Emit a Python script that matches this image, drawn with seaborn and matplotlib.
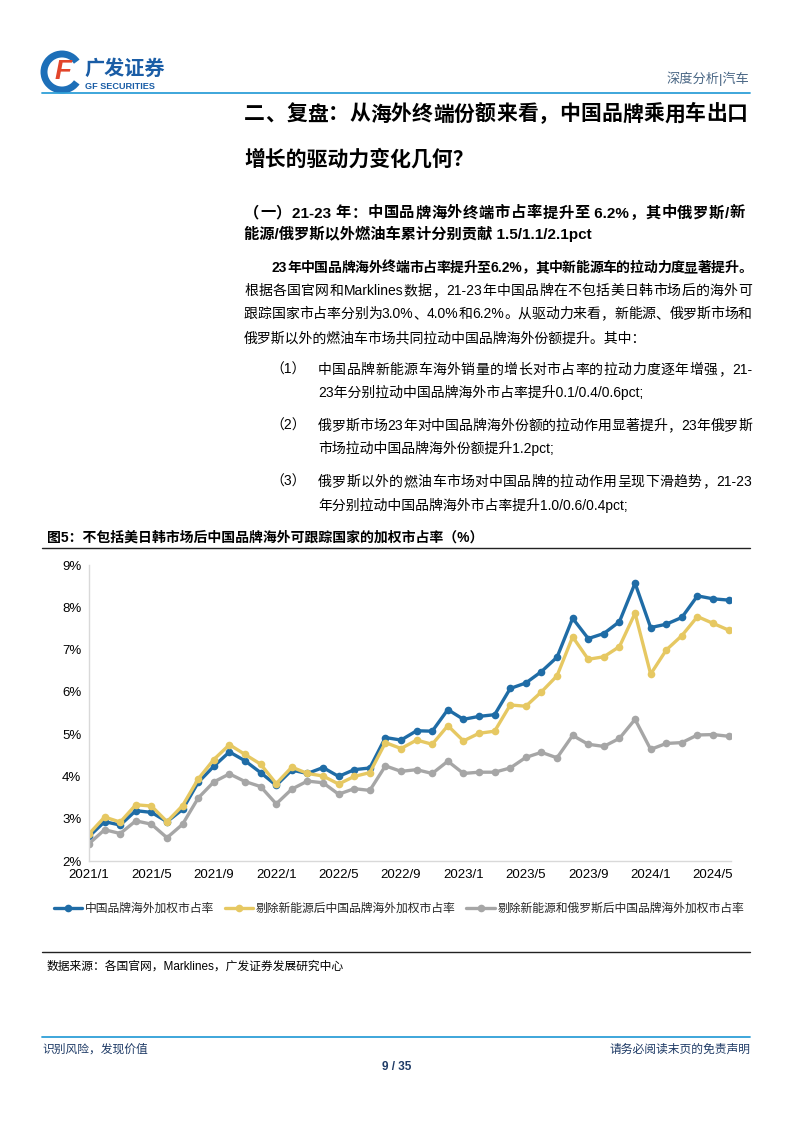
#!/usr/bin/env python3
"""
Report page: weighted overseas share of Chinese brands (ex US/JP/KR markets).
Outputs: out.png
"""
import pandas as pd
import matplotlib.pyplot as plt
import seaborn as sns
from matplotlib.patches import Arc
from matplotlib.lines import Line2D

W, H = 794, 1123

# monthly categories 2021/1 .. 2024/6
MONTHS = [f"{y}/{m}" for y in (2021, 2022, 2023, 2024) for m in range(1, 13)][:42]
TICK_LABELS = ["2021/1", "2021/5", "2021/9", "2022/1", "2022/5", "2022/9",
               "2023/1", "2023/5", "2023/9", "2024/1", "2024/5"]
Y_TICKS = [2, 3, 4, 5, 6, 7, 8, 9]

SERIES_NAMES = ["中国品牌海外加权市占率",
                "剔除新能源后中国品牌海外加权市占率",
                "剔除新能源和俄罗斯后中国品牌海外加权市占率"]
BRAND = [2.58, 2.93, 2.85, 3.19, 3.15, 2.93, 3.22, 3.86, 4.24, 4.58, 4.37, 4.09,
         3.79, 4.15, 4.07, 4.21, 4.00, 4.16, 4.20, 4.92, 4.86, 5.08, 5.07, 5.58,
         5.35, 5.42, 5.46, 6.08, 6.21, 6.48, 6.82, 7.74, 7.26, 7.38, 7.66, 8.57,
         7.52, 7.60, 7.76, 8.27, 8.20, 8.17]
EX_NEV = [2.64, 3.04, 2.92, 3.33, 3.30, 2.93, 3.31, 3.94, 4.40, 4.75, 4.52, 4.29,
          3.83, 4.22, 4.07, 4.01, 3.82, 4.00, 4.09, 4.80, 4.66, 4.86, 4.76, 5.20,
          4.84, 5.02, 5.07, 5.69, 5.66, 6.00, 6.38, 7.30, 6.77, 6.83, 7.07, 7.86,
          6.42, 6.99, 7.33, 7.78, 7.62, 7.46]
EX_NEV_RU = [2.41, 2.74, 2.65, 2.95, 2.87, 2.55, 2.87, 3.49, 3.87, 4.06, 3.88, 3.76,
             3.35, 3.70, 3.89, 3.85, 3.58, 3.71, 3.67, 4.25, 4.12, 4.16, 4.07, 4.36,
             4.07, 4.10, 4.10, 4.20, 4.45, 4.57, 4.44, 4.97, 4.76, 4.71, 4.90, 5.35,
             4.64, 4.78, 4.80, 4.98, 4.99, 4.95]
COLORS = ["#1f6ca6", "#e6c862", "#a6a6a6"]

sns.set_theme(style="white")
plt.rcParams["font.family"] = ["Liberation Sans", "Noto Sans CJK SC", "DejaVu Sans"]

fig = plt.figure(figsize=(W / 100, H / 100), dpi=100)
renderer = fig.canvas.get_renderer()


def fx(x):
    return x / W


def fy(y):
    return 1 - y / H


def put(s, x, y, size, weight="normal", color="black", ha="left"):
    # y is the visual centre line in pixels; place by baseline
    base = y + 0.36 * size * 100 / 72
    return fig.text(fx(x), fy(base), s, fontsize=size, fontweight=weight,
                    color=color, ha=ha, va="baseline")


def tokens(s):
    out, buf = [], ""
    for ch in s:
        if ord(ch) < 128:
            buf += ch
        else:
            if buf:
                out.append(buf)
                buf = ""
            out.append(ch)
    if buf:
        out.append(buf)
    return out


def justify(s, x0, x1, y, size, weight="normal"):
    parts = [put(t, x0, y, size, weight) for t in tokens(s)]
    widths = [p.get_window_extent(renderer).width for p in parts]
    gap = (x1 - x0 - sum(widths)) / max(len(parts) - 1, 1)
    x = x0
    for p, w in zip(parts, widths):
        p.set_x(fx(x))
        x += w + gap


def hline(y, x0, x1, color, lw):
    fig.add_artist(Line2D([fx(x0), fx(x1)], [fy(y), fy(y)], color=color, lw=lw,
                          transform=fig.transFigure))


# ---- page header ----
fig.add_artist(Arc((62 / 100, (H - 72) / 100), 0.36, 0.36, theta1=35, theta2=325,
                   lw=5, color="#1d6fb8", transform=fig.dpi_scale_trans))
fig.text(fx(63), fy(72), "F", fontsize=20, fontweight="bold", style="italic",
         color="#e2452b", ha="center", va="center")
put("广发证券", 84, 68, 14.5, weight="bold", color="#1a5da6")
put("GF SECURITIES", 85, 86, 6.6, weight="bold", color="#1a5da6")
put("深度分析|汽车", 749, 78, 9.5, color="#4a6785", ha="right")
hline(93, 42, 750, "#2e9fd8", 1.3)

# ---- headings and body ----
justify("二、复盘：从海外终端份额来看，中国品牌乘用车出口", 244, 748, 113, 15, "bold")
put("增长的驱动力变化几何？", 244, 158, 15, weight="bold")
justify("（一）21-23 年：中国品牌海外终端市占率提升至 6.2%，其中俄罗斯/新", 244, 745, 212, 11, "bold")
put("能源/俄罗斯以外燃油车累计分别贡献 1.5/1.1/2.1pct", 244, 234, 11, weight="bold")

justify("23年中国品牌海外终端市占率提升至6.2%，其中新能源车的拉动力度显著提升。", 272, 752, 267, 10, "bold")
justify("根据各国官网和Marklines数据，21-23年中国品牌在不包括美日韩市场后的海外可", 244, 752, 290, 10)
justify("跟踪国家市占率分别为3.0%、4.0%和6.2%。从驱动力来看，新能源、俄罗斯市场和", 244, 752, 313, 10)
put("俄罗斯以外的燃油车市场共同拉动中国品牌海外份额提升。其中：", 244, 337, 10)

put("（1）", 270, 369, 10)
justify("中国品牌新能源车海外销量的增长对市占率的拉动力度逐年增强，21-", 318, 752, 369, 10)
put("23年分别拉动中国品牌海外市占率提升0.1/0.4/0.6pct;", 318, 392, 10)
put("（2）", 270, 425, 10)
justify("俄罗斯市场23年对中国品牌海外份额的拉动作用显著提升，23年俄罗斯", 318, 752, 425, 10)
put("市场拉动中国品牌海外份额提升1.2pct;", 318, 448, 10)
put("（3）", 270, 481, 10)
justify("俄罗斯以外的燃油车市场对中国品牌的拉动作用呈现下滑趋势，21-23", 318, 752, 481, 10)
put("年分别拉动中国品牌海外市占率提升1.0/0.6/0.4pct;", 318, 505, 10)

put("图5：不包括美日韩市场后中国品牌海外可跟踪国家的加权市占率（%）", 47, 537, 10, weight="bold")
hline(548, 42, 750, "#222222", 1.0)

# ---- chart ----
df = pd.DataFrame({"idx": range(len(MONTHS)), "month": MONTHS,
                   SERIES_NAMES[0]: BRAND, SERIES_NAMES[1]: EX_NEV,
                   SERIES_NAMES[2]: EX_NEV_RU})

ax = fig.add_axes([fx(89), fy(861), fx(731) - fx(89), fy(565) - fy(861)])
for name, color in zip(SERIES_NAMES, COLORS):
    sns.lineplot(data=df, x="idx", y=name, ax=ax, color=color, lw=2.4,
                 marker="o", markersize=5.5, markeredgewidth=0, label=name)

ax.set_xlim(0, len(MONTHS) - 0.85)
ax.set_ylim(2, 9)
ax.set_xticks([MONTHS.index(t) for t in TICK_LABELS])
ax.set_xticklabels(TICK_LABELS)
ax.set_yticks(Y_TICKS)
ax.set_yticklabels([f"{v}%" for v in Y_TICKS])
ax.set_xlabel("")
ax.set_ylabel("")
ax.grid(False)
for side in ("top", "right"):
    ax.spines[side].set_visible(False)
for side in ("left", "bottom"):
    ax.spines[side].set_color("#d9d9d9")
    ax.spines[side].set_linewidth(1.0)
ax.tick_params(axis="both", length=3.5, width=0.8, color="#d9d9d9", direction="out",
               labelsize=9.5, labelcolor="black", pad=2)

handles, labels = ax.get_legend_handles_labels()
ax.get_legend().remove()
fig.legend(handles, labels, loc="center", bbox_to_anchor=(fx(399), fy(909)), ncol=3,
           frameon=False, fontsize=8.5, handlelength=2.4, handletextpad=0.25,
           columnspacing=0.9, borderaxespad=0)

hline(952, 42, 750, "#222222", 1.0)
put("数据来源：各国官网，Marklines，广发证券发展研究中心", 47, 965, 8.5)

# ---- footer ----
hline(1037, 42, 750, "#2e9fd8", 1.3)
put("识别风险，发现价值", 42, 1048, 8.5, color="#1f3b66")
put("请务必阅读末页的免责声明", 750, 1048, 8.5, color="#1f3b66", ha="right")
put("9 / 35", 397, 1066, 8.5, weight="bold", color="#1f3b66", ha="center")

fig.savefig("out.png", dpi=100)
plt.close(fig)
